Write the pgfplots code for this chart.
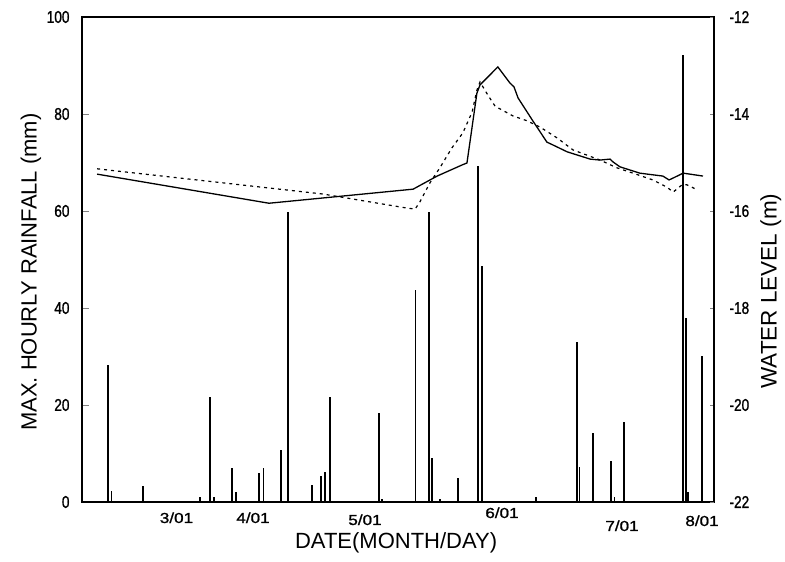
\documentclass[border=0pt]{standalone}
\usepackage{pgfplots}
\pgfplotsset{compat=1.18}
\usepackage{fontspec}
\setmainfont{Liberation Sans}
\newfontfamily\condfont[FakeStretch=0.8, FakeBold=1.2]{Liberation Sans}
\newfontfamily\widefont[FakeStretch=1.18, FakeBold=1.2]{Liberation Sans}

% day index: 0 = left edge of the record
\begin{document}
\begin{tikzpicture}
\path[use as bounding box] (-82pt,-60pt) rectangle (703pt,502pt);

\begin{axis}[
  scale only axis,
  width=632pt, height=485pt,
  xmin=0, xmax=184.2,
  ymin=0, ymax=100,
  axis line style={line width=1.2pt},
  xtick={27.54,49.84,82.48,122.41,157.39,180.71},
  xticklabels={\raisebox{2pt}{3/01},\raisebox{2pt}{4/01},5/01,\raisebox{7pt}{6/01},\raisebox{-6pt}{7/01},\raisebox{-1pt}{8/01}},
  xtick style={draw=none},
  xticklabel style={font=\widefont\fontsize{14.5}{14.5}\selectfont, anchor=base, yshift=-23pt},
  ytick={0,20,40,60,80,100},
  yticklabels={0,20,40,60,80,100},
  ytick pos=left,
  tick align=inside,
  major tick length=7pt,
  ytick style={line width=0.8pt},
  yticklabel style={font=\condfont\fontsize{17}{17}\selectfont, xshift=-9pt},
  xlabel={DATE(MONTH/DAY)},
  xlabel style={font=\fontsize{22}{22}\selectfont, at={(axis description cs:0.497,-0.0845)}, anchor=center},
  ylabel={MAX. HOURLY RAINFALL (mm)},
  ylabel style={font=\fontsize{22}{22}\selectfont, at={(axis description cs:-0.081,0.474)}, anchor=center},
]
\addplot[ycomb, black, line width=1.3pt, mark=none] coordinates {
  (7.6,28.2) (8.5,2.3) (17.8,3.3) (34.4,1.0) (37.3,21.6) (38.5,1.0)
  (43.7,7.0) (44.9,2.0) (51.6,6.0) (52.8,7.0) (58.0,10.7) (60.0,59.8)
  (67.0,3.5) (69.7,5.4) (70.8,6.2) (72.3,21.6) (86.6,18.3) (87.4,0.6)
  (97.1,43.8) (101.1,59.8) (102.0,9.0) (104.3,0.7) (109.6,5.0)
  (115.4,69.3) (116.6,48.7) (132.3,1.1) (144.3,33.0) (145.1,7.3)
  (148.9,14.2) (154.2,8.5) (155.1,1.1) (158.0,16.4) (175.2,92.2)
  (176.0,38.0) (176.6,2.0) (180.7,30.0)
};
\end{axis}

\begin{axis}[
  scale only axis,
  width=632pt, height=485pt,
  xmin=0, xmax=184.2,
  ymin=-22, ymax=-12,
  axis x line=none,
  axis y line*=right,
  axis line style={line width=1.2pt},
  ytick={-22,-20,-18,-16,-14,-12},
  yticklabels={-22,-20,-18,-16,-14,-12},
  tick align=inside,
  major tick length=4pt,
  ytick style={line width=0.8pt},
  yticklabel style={font=\condfont\fontsize{17}{17}\selectfont, xshift=12pt},
  ylabel={WATER LEVEL (m)},
  ylabel style={font=\fontsize{22.5}{22.5}\selectfont, at={(axis description cs:1.09,0.435)}, anchor=center},
]
% observed level
\addplot[black, line width=1.3pt, mark=none] coordinates {
  (4.4,-15.24) (54.5,-15.84) (96.5,-15.55) (103.5,-15.28) (110.8,-15.05)
  (112.2,-15.01) (115.1,-13.57) (116.0,-13.40) (121.2,-13.03) (124.7,-13.36)
  (125.9,-13.44) (127.1,-13.67) (131.2,-14.12) (135.5,-14.58) (137.3,-14.64)
  (141.4,-14.78) (148.1,-14.93) (151.0,-14.95) (153.9,-14.93) (154.8,-14.99)
  (156.8,-15.09) (162.6,-15.22) (169.3,-15.28) (171.1,-15.36) (172.3,-15.32)
  (175.2,-15.22) (177.2,-15.24) (181.0,-15.28)
};
% simulated level
\addplot[black, line width=1.2pt, dash pattern=on 3pt off 4pt, mark=none] coordinates {
  (4.4,-15.13) (70.2,-15.65) (94.7,-15.94) (97.1,-15.96) (98.5,-15.81)
  (101.4,-15.42) (104.3,-15.11) (107.8,-14.70) (111.0,-14.39) (113.7,-13.96)
  (115.1,-13.51) (116.0,-13.34) (118.3,-13.61) (120.4,-13.84) (125.6,-14.04)
  (129.7,-14.14) (133.5,-14.27) (138.4,-14.49) (143.1,-14.74) (151.0,-14.95)
  (155.9,-15.11) (160.6,-15.22) (166.4,-15.36) (170.5,-15.51) (172.3,-15.61)
  (174.9,-15.46) (176.3,-15.46) (179.5,-15.57)
};
\end{axis}
\end{tikzpicture}
\end{document}
